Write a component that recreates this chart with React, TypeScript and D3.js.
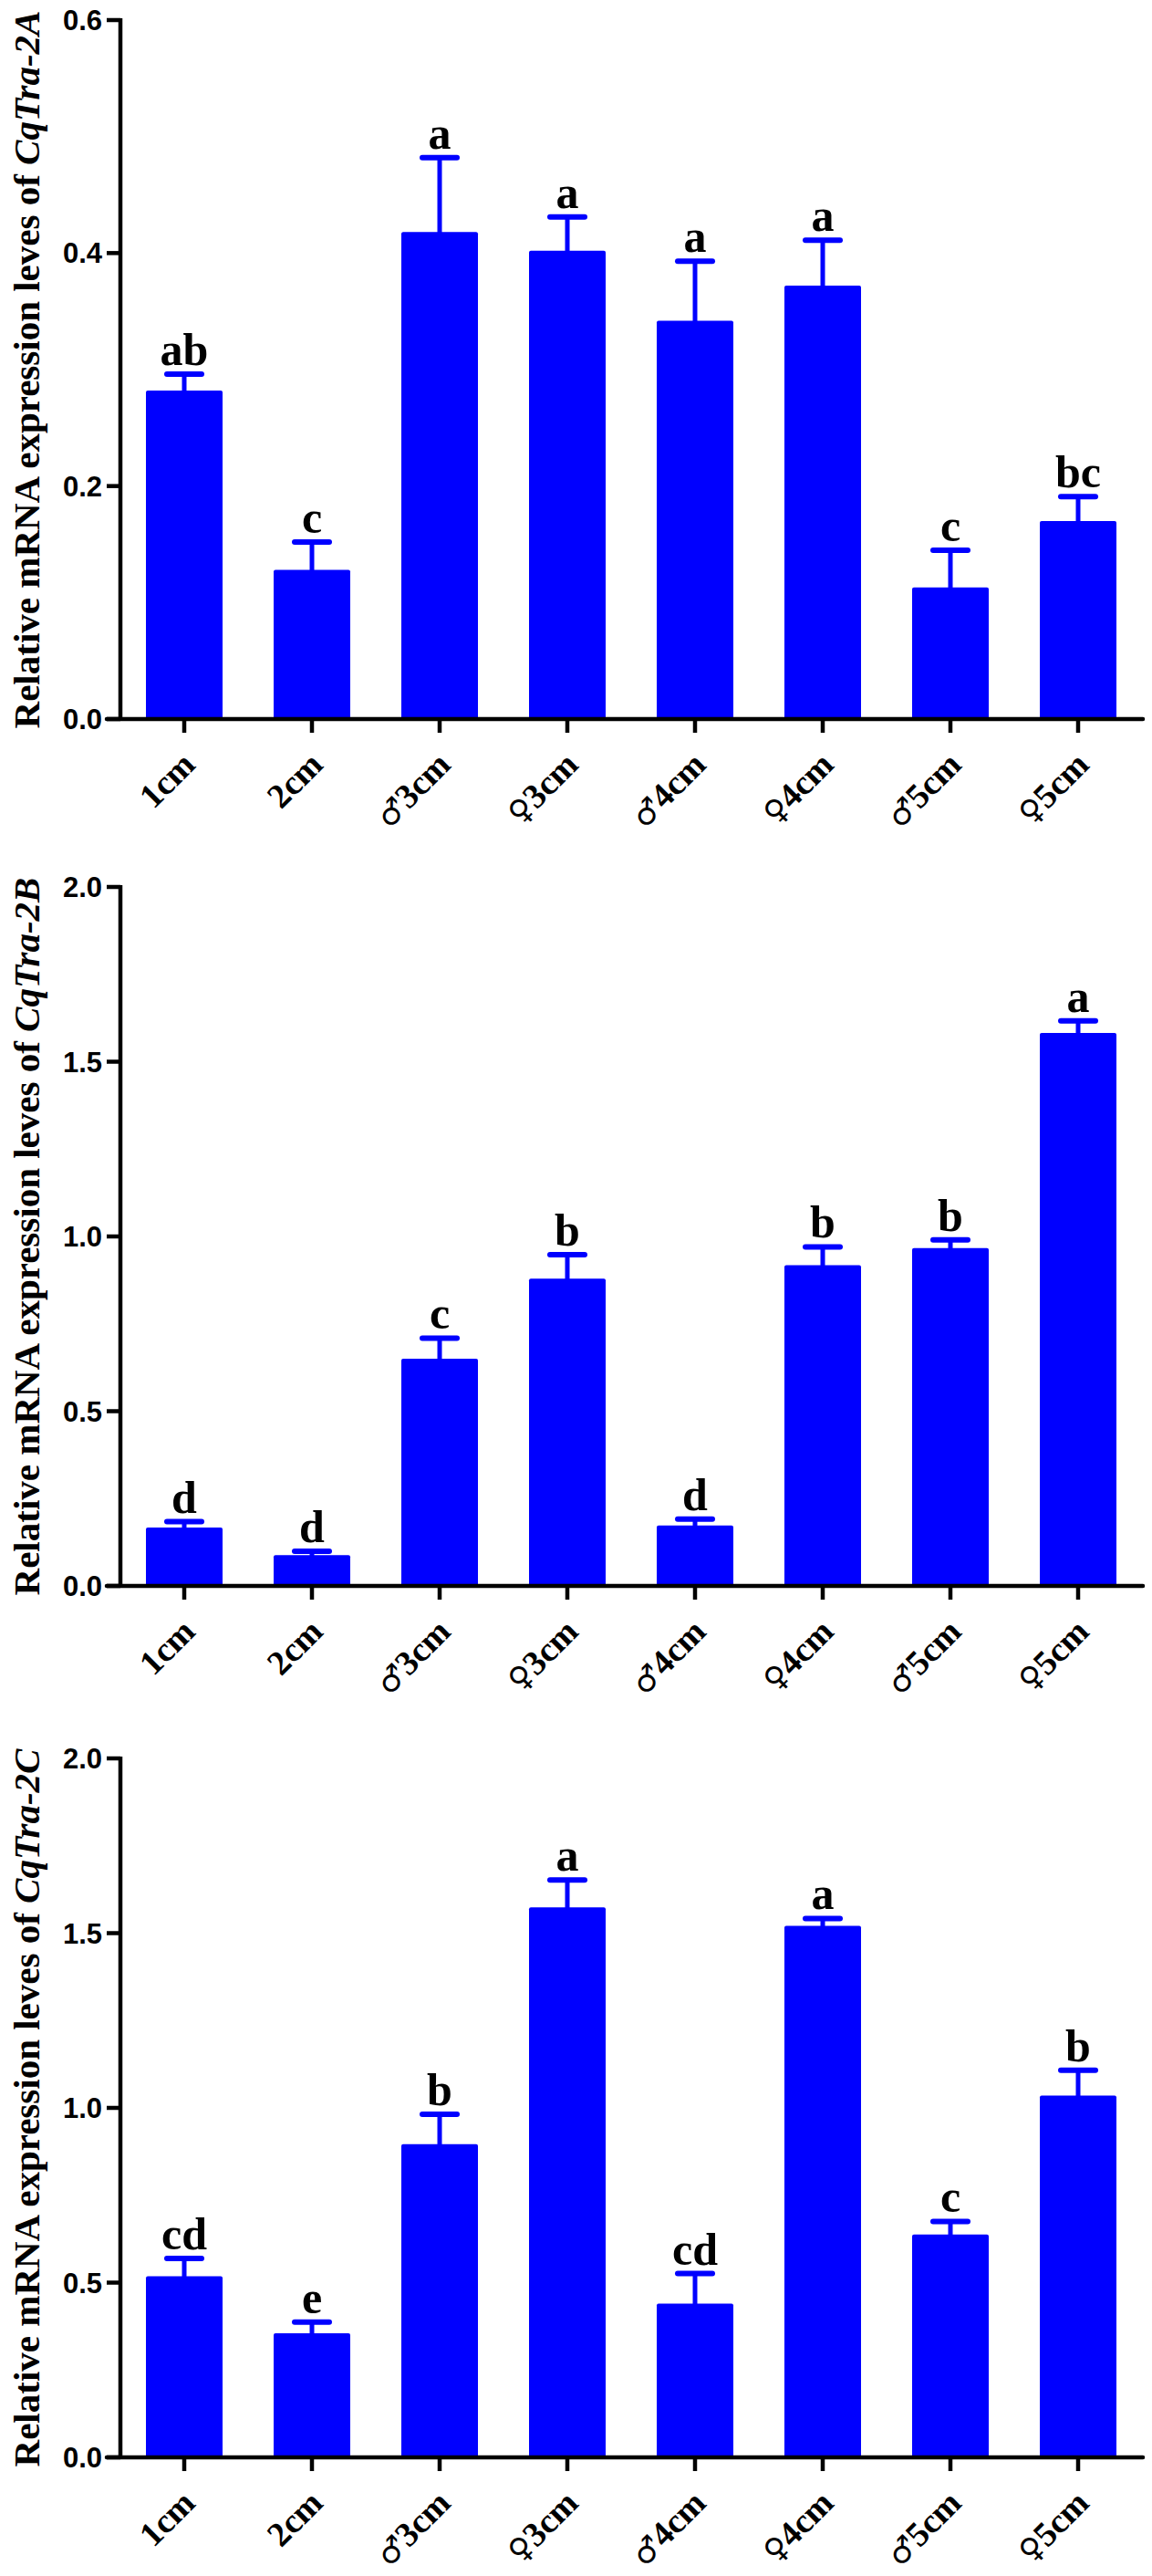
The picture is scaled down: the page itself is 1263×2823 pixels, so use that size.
import React from "react";
import * as d3 from "d3";

const categories = ["1cm", "2cm", "♂3cm", "♀3cm", "♂4cm", "♀4cm", "♂5cm", "♀5cm"];

const meansA = [0.282, 0.128, 0.418, 0.402, 0.342, 0.372, 0.113, 0.17];
const errorsA = [0.014, 0.024, 0.064, 0.029, 0.051, 0.039, 0.032, 0.021];
const lettersA = ["ab", "c", "a", "a", "a", "a", "c", "bc"];
const ticksA = [0, 0.2, 0.4, 0.6];

const meansB = [0.167, 0.088, 0.65, 0.879, 0.173, 0.918, 0.967, 1.582];
const errorsB = [0.017, 0.011, 0.059, 0.069, 0.018, 0.052, 0.023, 0.035];
const lettersB = ["d", "d", "c", "b", "d", "b", "b", "a"];
const ticksB = [0, 0.5, 1.0, 1.5, 2.0];

const meansC = [0.518, 0.355, 0.896, 1.574, 0.44, 1.521, 0.638, 1.035];
const errorsC = [0.051, 0.032, 0.086, 0.078, 0.086, 0.021, 0.037, 0.073];
const lettersC = ["cd", "e", "b", "a", "cd", "a", "c", "b"];
const ticksC = [0, 0.5, 1.0, 1.5, 2.0];

const genes = ["CqTra-2A", "CqTra-2B", "CqTra-2C"];

const BLUE = "#0000FF";
const SERIF = "'Liberation Serif', 'Times New Roman', serif";
const SANS = "'Liberation Sans', Arial, sans-serif";

type PanelProps = {
  top: number;
  means: number[];
  errors: number[];
  letters: string[];
  ticks: number[];
  gene: string;
};

const PLOT_H = 766;
const AXIS_X = 132;
const RIGHT = 1252;

function Panel({ top, means, errors, letters, ticks, gene }: PanelProps) {
  const yMax = ticks[ticks.length - 1];
  const y = d3.scaleLinear().domain([0, yMax]).range([top + PLOT_H, top]);
  const x = d3.scaleBand<string>().domain(categories).range([AXIS_X, RIGHT]).padding(0);
  const barW = x.bandwidth() * 0.6;
  const y0 = y(0);
  const fmt = d3.format(".1f");
  const cx = (c: string) => (x(c) as number) + x.bandwidth() / 2;

  return (
    <g>
      {categories.map((c, i) => (
        <rect
          key={"b" + i}
          x={cx(c) - barW / 2}
          y={y(means[i])}
          width={barW}
          height={y0 - y(means[i])}
          rx={2}
          fill={BLUE}
        />
      ))}
      {categories.map((c, i) => {
        const yt = y(means[i] + errors[i]);
        return (
          <g key={"e" + i}>
            <line x1={cx(c)} x2={cx(c)} y1={y(means[i]) + 1} y2={yt} stroke={BLUE} strokeWidth={5} />
            <line
              x1={cx(c) - 19}
              x2={cx(c) + 19}
              y1={yt}
              y2={yt}
              stroke={BLUE}
              strokeWidth={6}
              strokeLinecap="round"
            />
          </g>
        );
      })}
      {categories.map((c, i) => (
        <text
          key={"l" + i}
          x={cx(c)}
          y={y(means[i] + errors[i]) - 10}
          textAnchor="middle"
          fontFamily={SERIF}
          fontWeight="bold"
          fontSize={50}
          fill="#000"
        >
          {letters[i]}
        </text>
      ))}
      <line x1={AXIS_X} x2={AXIS_X} y1={y(yMax) - 2} y2={y0} stroke="#000" strokeWidth={4.5} />
      {ticks.map((t, i) => (
        <g key={"yt" + i}>
          <line x1={AXIS_X - 15} x2={AXIS_X} y1={y(t)} y2={y(t)} stroke="#000" strokeWidth={4.5} />
          <text
            x={AXIS_X - 20}
            y={y(t)}
            dy="0.36em"
            textAnchor="end"
            fontFamily={SANS}
            fontWeight="bold"
            fontSize={31}
            fill="#000"
          >
            {fmt(t)}
          </text>
        </g>
      ))}
      <line x1={AXIS_X - 15} x2={RIGHT + 1} y1={y0} y2={y0} stroke="#000" strokeWidth={4.5} strokeLinecap="round" />
      {categories.map((c, i) => {
        const sym = c.startsWith("♂") || c.startsWith("♀") ? c[0] : "";
        const rest = sym ? c.slice(1) : c;
        const ax = cx(c) + 14;
        const ay = y0 + 52;
        return (
          <g key={"xt" + i}>
            <line x1={cx(c)} x2={cx(c)} y1={y0} y2={y0 + 15} stroke="#000" strokeWidth={4.5} />
            <text
              transform={`translate(${ax},${ay}) rotate(-45)`}
              textAnchor="end"
              fontFamily={SERIF}
              fontWeight="bold"
              fontSize={38}
              fill="#000"
            >
              {sym && (
                <tspan fontFamily="'DejaVu Sans', sans-serif" fontWeight="normal" fontSize={34}>
                  {sym}
                </tspan>
              )}
              <tspan>{rest}</tspan>
            </text>
          </g>
        );
      })}
      <text
        transform={`translate(43,${top + PLOT_H / 2}) rotate(-90)`}
        textAnchor="middle"
        fontFamily={SERIF}
        fontWeight="bold"
        fontSize={41}
        fill="#000"
      >
        Relative mRNA expression leves of <tspan fontStyle="italic">{gene}</tspan>
      </text>
    </g>
  );
}

export default function App() {
  return (
    <svg
      width={1263}
      height={2823}
      viewBox="0 0 1263 2823"
      style={{ position: "absolute", left: 0, top: 0, background: "#fff" }}
    >
      <rect x={0} y={0} width={1263} height={2823} fill="#fff" />
      <Panel top={22} means={meansA} errors={errorsA} letters={lettersA} ticks={ticksA} gene={genes[0]} />
      <Panel top={972} means={meansB} errors={errorsB} letters={lettersB} ticks={ticksB} gene={genes[1]} />
      <Panel top={1927} means={meansC} errors={errorsC} letters={lettersC} ticks={ticksC} gene={genes[2]} />
    </svg>
  );
}
